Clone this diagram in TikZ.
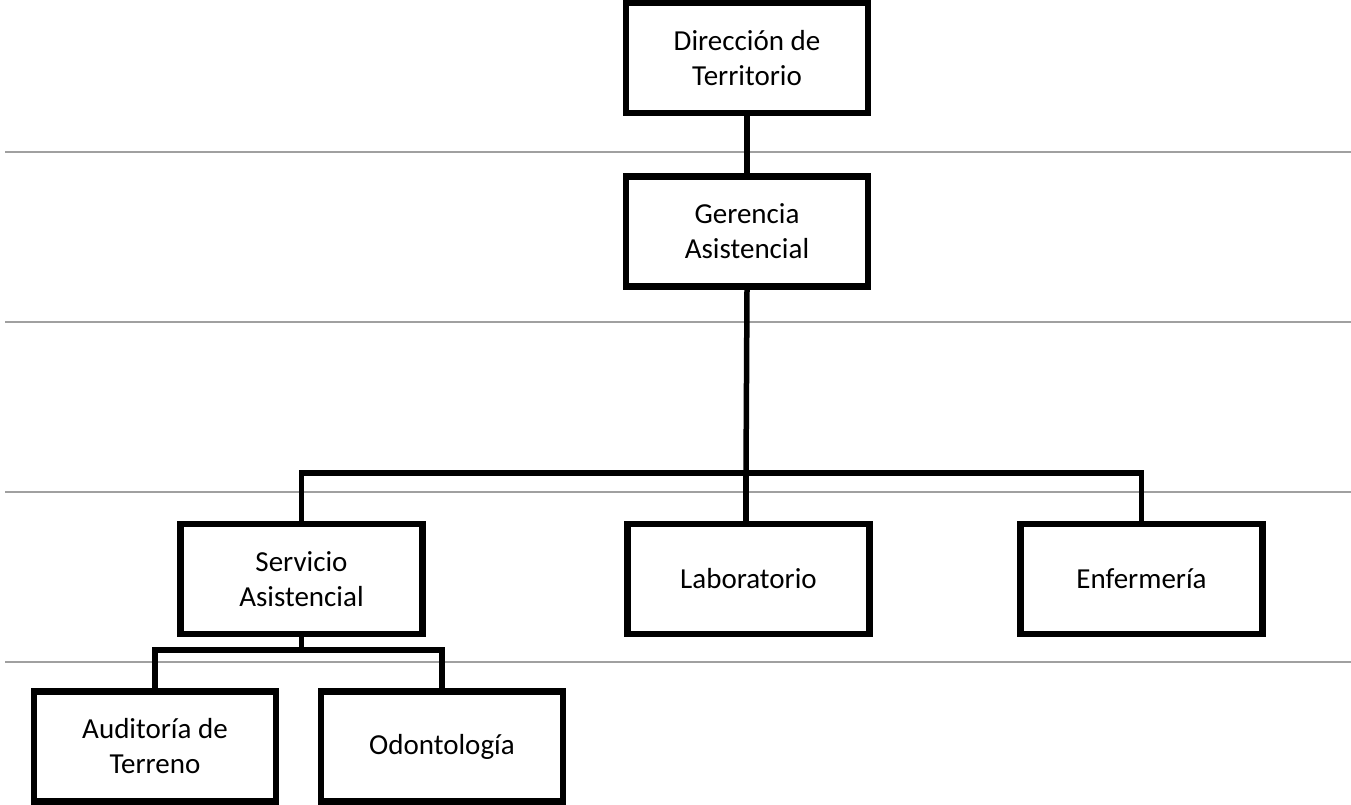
\documentclass[tikz,border=0pt]{standalone}
\usepackage{fontspec}
\setmainfont{Carlito}
\definecolor{rulegray}{RGB}{160,160,160}
\tikzset{
  orgbox/.style={draw=black, line width=6.5pt, rectangle, inner sep=0pt, align=center,
    minimum width=242pt, minimum height=110pt, font=\fontsize{29}{35}\selectfont},
  conn/.style={draw=black, line width=5.5pt, line join=miter},
  rule/.style={draw=rulegray, line width=2pt}
}
\begin{document}
\begin{tikzpicture}[x=1pt,y=-1pt]
\useasboundingbox (0,0) rectangle (1351,805);
% gray horizontal rules
\coordinate (r1a) at (5,152); \coordinate (r1b) at (1351,152);
\coordinate (r2a) at (5,322); \coordinate (r2b) at (1351,322);
\coordinate (r3a) at (5,492); \coordinate (r3b) at (1351,492);
\coordinate (r4a) at (5,662); \coordinate (r4b) at (1351,662);
\draw[rule] (r1a) -- (r1b);
\draw[rule] (r2a) -- (r2b);
\draw[rule] (r3a) -- (r3b);
\draw[rule] (r4a) -- (r4b);
% nodes
\node[orgbox] (dir) at (747,58) {Dirección de\\Territorio};
\node[orgbox] (ger) at (747,231.5) {Gerencia\\Asistencial};
\node[orgbox] (serv) at (301.5,579) {Servicio\\Asistencial};
\node[orgbox] (lab) at (748.5,579) {Laboratorio};
\node[orgbox] (enf) at (1141.5,579) {Enfermería};
\node[orgbox] (aud) at (155,746.5) {Auditoría de\\Terreno};
\node[orgbox] (odo) at (442,746.5) {Odontología};
% bus coordinates
\coordinate (bus) at (746,473);
\coordinate (bus2) at (301.5,650);
% connectors
\draw[conn] (dir.south) -- (ger.north);
\draw[conn] (ger.south) -- (bus);
\draw[conn] (serv.north) |- (bus) -| (enf.north);
\draw[conn] (lab.north -| bus) -- (bus);
\draw[conn] (serv.south) -- (bus2);
\draw[conn] (aud.north) |- (bus2) -| (odo.north);
\end{tikzpicture}
\end{document}
